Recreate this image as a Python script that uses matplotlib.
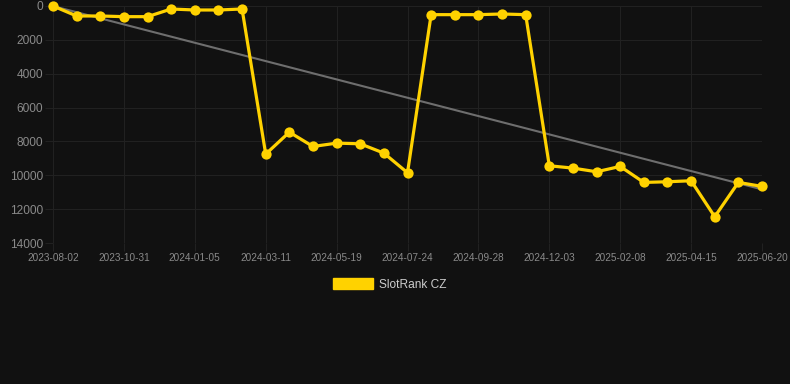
import numpy as np
import matplotlib
matplotlib.use("Agg")
import matplotlib.pyplot as plt
from matplotlib.patches import Patch

# ---- data ----
tick_labels = ["2023-08-02", "2023-10-31", "2024-01-05", "2024-03-11", "2024-05-19",
               "2024-07-24", "2024-09-28", "2024-12-03", "2025-02-08", "2025-04-15",
               "2025-06-20"]
rank_values = [0, 590, 590, 630, 630, 177, 236, 236, 177,
               8750, 7452, 8298, 8101, 8140, 8691, 9851,
               511, 511, 511, 472, 511,
               9438, 9576, 9792, 9477, 10421, 10382, 10323, 12447, 10421, 10657]
series_name = "SlotRank CZ"

# ---- style ----
BG = "#111111"
GRID = "#212121"
YELLOW = "#FFD200"
TREND = "#6e6e6e"
TICK_COLOR = "#8a8a8a"
LEGEND_TEXT = "#cccccc"
plt.rcParams['font.family'] = ['Liberation Sans', 'DejaVu Sans']

W, H = 790, 384
fig = plt.figure(figsize=(W / 100, H / 100), dpi=100, facecolor=BG)
ax = fig.add_axes([53 / W, (H - 243) / H, (762 - 53) / W, (243 - 6) / H])
ax.set_facecolor(BG)

x = np.arange(len(rank_values))
y = np.array(rank_values, dtype=float)

# trend line (linear regression)
coef = np.polyfit(x, y, 1)
tx = np.array([x[0], x[-1]])
ax.plot(tx, np.polyval(coef, tx), color=TREND, lw=1.5, zorder=2, clip_on=False)

ax.plot(x, y, color=YELLOW, lw=2.3, marker="o", markersize=7.4,
        markeredgewidth=0, zorder=3, clip_on=False)

ax.set_xlim(0, len(rank_values) - 1)
ax.set_ylim(14000, 0)
ax.set_yticks(np.arange(0, 14001, 2000))
ax.set_xticks(x[::3])
ax.set_xticklabels(tick_labels)

ax.grid(True, color=GRID, lw=0.72, zorder=0)
for s in ax.spines.values():
    s.set_visible(False)
ax.tick_params(axis="x", length=8 * 0.72, width=0.72, color=GRID, colors=TICK_COLOR,
               labelsize=7.2, pad=1.5)
ax.tick_params(axis="y", length=8 * 0.72, width=0.72, color=GRID, colors=TICK_COLOR,
               labelsize=8.6, pad=1.5)
ax.tick_params(axis="both", which="both", color=GRID)

leg = fig.legend(handles=[Patch(facecolor=YELLOW, edgecolor=YELLOW, label=series_name)],
                 loc="center", bbox_to_anchor=(390 / W, 1 - 284.5 / H),
                 frameon=False, fontsize=8.6, handlelength=3.3, handleheight=1.0,
                 handletextpad=0.55, labelcolor=LEGEND_TEXT)

fig.savefig("out.png", dpi=100, facecolor=BG)
